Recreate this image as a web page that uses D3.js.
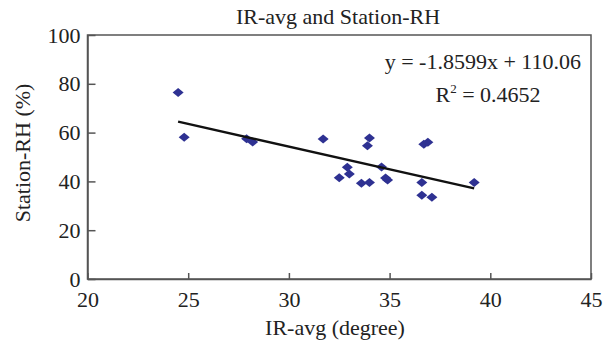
<!DOCTYPE html>
<html><head><meta charset="utf-8">
<script src="https://cdn.jsdelivr.net/npm/d3@7"></script>
<style>body{margin:0;background:#fff}svg{display:block}text{font-family:"Liberation Serif","Times New Roman",serif;fill:#222}</style>
</head><body>
<script>
const irAvg = [24.5, 24.8, 27.9, 28.2, 31.7, 32.5, 32.9, 33.0, 33.6, 33.9, 34.0, 34.0, 34.6, 34.8, 34.9, 36.6, 36.6, 36.7, 36.9, 37.1, 39.2];
const stationRH = [76.4, 58.1, 57.5, 56.1, 57.4, 41.5, 45.8, 43.0, 39.2, 54.6, 57.8, 39.5, 45.9, 41.4, 40.6, 39.6, 34.3, 55.2, 56.0, 33.5, 39.5];
const xTicks = [20, 25, 30, 35, 40, 45];
const yTicks = [0, 20, 40, 60, 80, 100];
const slope = -1.8599, intercept = 110.06, r2 = "0.4652";
const titleText = "IR-avg and Station-RH";
const xTitle = "IR-avg (degree)";
const yTitle = "Station-RH (%)";

const W = 610, H = 342;
const m = {l: 87.5, r: 19, t: 35, b: 63};
const FS = 22;
const svg = d3.select("body").append("svg").attr("width", W).attr("height", H);
const x = d3.scaleLinear().domain([20, 45]).range([m.l, W - m.r]);
const y = d3.scaleLinear().domain([0, 100]).range([H - m.b, m.t]);
const axisColor = "#555";

svg.append("rect").attr("x", m.l).attr("y", m.t).attr("width", W - m.r - m.l).attr("height", H - m.b - m.t)
  .attr("fill", "none").attr("stroke", axisColor).attr("stroke-width", 1.5);

const xa = svg.append("g").attr("transform", `translate(0,${H - m.b})`)
  .call(d3.axisBottom(x).tickValues(xTicks).tickSizeInner(-6).tickSizeOuter(0).tickPadding(12).tickFormat(d3.format("d")));
xa.select(".domain").attr("stroke", axisColor).attr("stroke-width", 1.5);
xa.selectAll(".tick line").attr("stroke", axisColor).attr("stroke-width", 1.5);
xa.selectAll(".tick text").attr("font-size", FS).attr("font-family", "Liberation Serif").attr("fill", "#222");

const ya = svg.append("g").attr("transform", `translate(${m.l},0)`)
  .call(d3.axisLeft(y).tickValues(yTicks).tickSizeInner(-8).tickSizeOuter(0).tickPadding(7).tickFormat(d3.format("d")));
ya.select(".domain").attr("stroke", axisColor).attr("stroke-width", 1.5);
ya.selectAll(".tick line").attr("stroke", axisColor).attr("stroke-width", 1.5);
ya.selectAll(".tick text").attr("font-size", FS).attr("font-family", "Liberation Serif").attr("fill", "#222");

const pts = irAvg.map((v, i) => ({x: v, y: stationRH[i]}));
svg.append("g").selectAll("path").data(pts).join("path")
  .attr("d", d => `M${x(d.x) - 5.5},${y(d.y)} L${x(d.x)},${y(d.y) - 4.5} L${x(d.x) + 5.5},${y(d.y)} L${x(d.x)},${y(d.y) + 4.5} Z`)
  .attr("fill", "#2E3192");

const xmin = d3.min(irAvg), xmax = d3.max(irAvg);
svg.append("line")
  .attr("x1", x(xmin)).attr("y1", y(slope * xmin + intercept))
  .attr("x2", x(xmax)).attr("y2", y(slope * xmax + intercept))
  .attr("stroke", "#111").attr("stroke-width", 2.5);

svg.append("text").attr("x", 338).attr("y", 24).attr("text-anchor", "middle").attr("font-size", FS).text(titleText);
svg.append("text").attr("x", 335).attr("y", 335).attr("text-anchor", "middle").attr("font-size", FS).text(xTitle);
svg.append("text").attr("transform", "translate(30,153) rotate(-90)").attr("text-anchor", "middle").attr("font-size", FS).text(yTitle);
svg.append("text").attr("x", 581).attr("y", 69).attr("text-anchor", "end").attr("font-size", FS)
  .text(`y = ${slope}x + ${intercept.toFixed(2)}`);
const r = svg.append("text").attr("x", 488).attr("y", 102).attr("text-anchor", "middle").attr("font-size", FS);
r.append("tspan").text("R");
r.append("tspan").attr("dy", -9).attr("font-size", 13).text("2");
r.append("tspan").attr("dy", 9).text(` = ${r2}`);
</script>
</body></html>
